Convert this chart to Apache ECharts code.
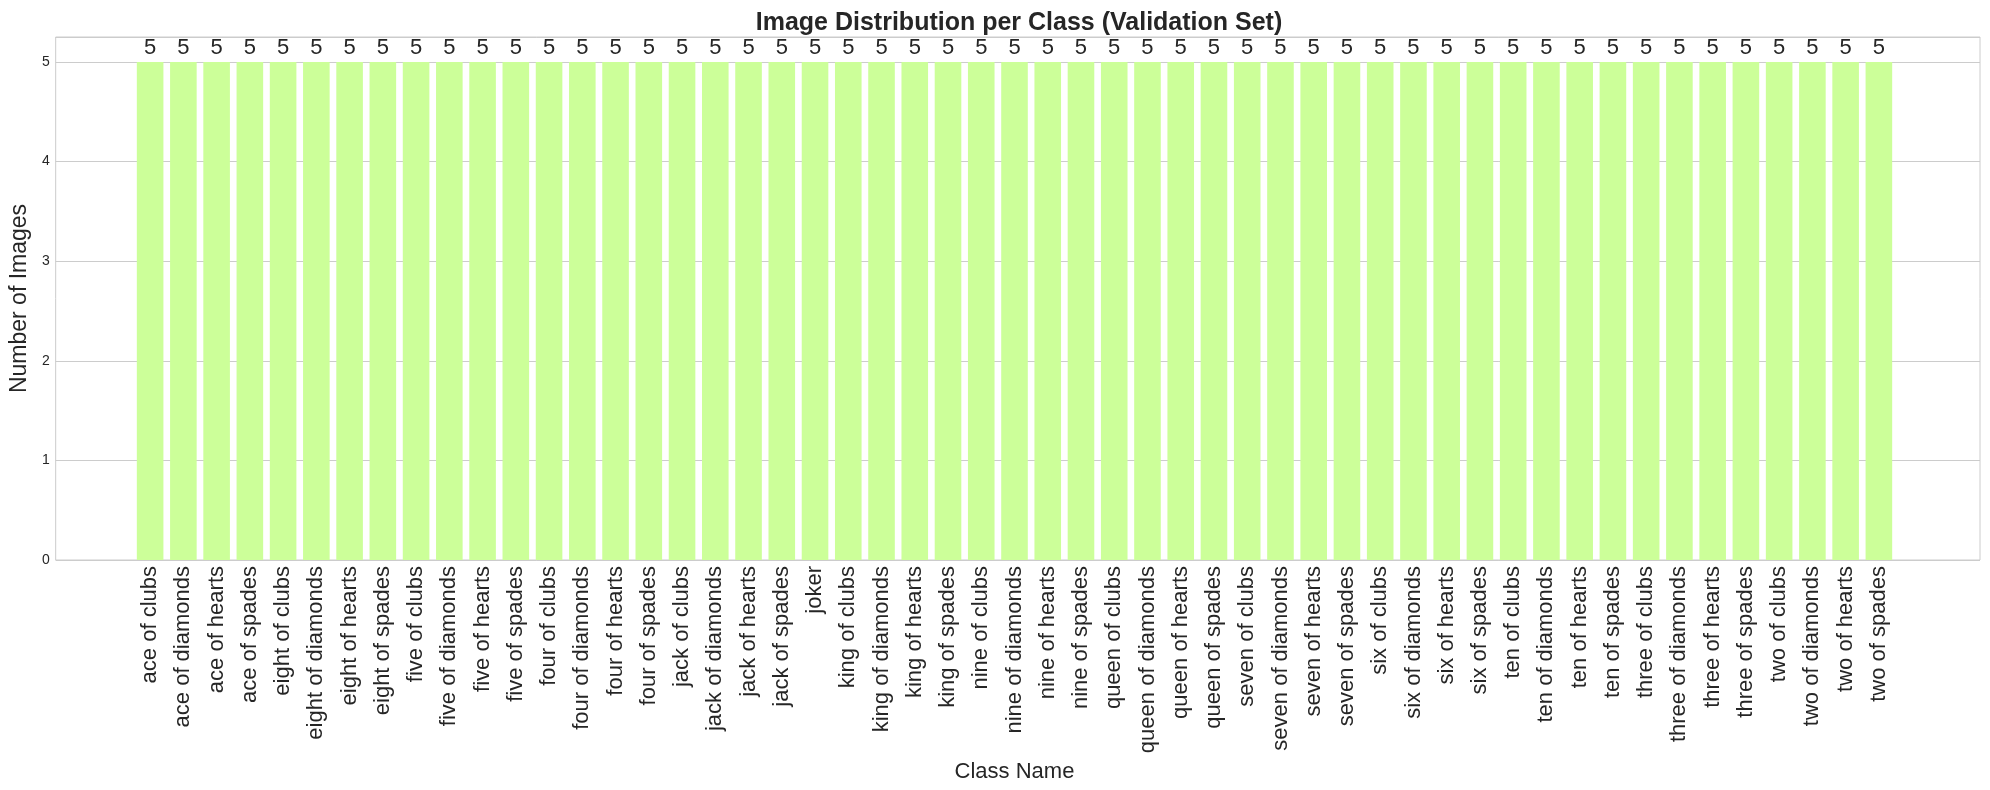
<!DOCTYPE html>
<html>
<head>
<meta charset="utf-8">
<script src="https://cdn.jsdelivr.net/npm/echarts@6/dist/echarts.min.js"></script>
<style>
  html, body { margin: 0; padding: 0; background: #fff; }
  #chart { width: 1990px; height: 790px; }
</style>
</head>
<body>
<div id="chart"></div>
<script>
// class names on the x axis
var classNames = [
    'ace of clubs', 'ace of diamonds', 'ace of hearts', 'ace of spades',
    'eight of clubs', 'eight of diamonds', 'eight of hearts', 'eight of spades',
    'five of clubs', 'five of diamonds', 'five of hearts', 'five of spades',
    'four of clubs', 'four of diamonds', 'four of hearts', 'four of spades',
    'jack of clubs', 'jack of diamonds', 'jack of hearts', 'jack of spades',
    'joker',
    'king of clubs', 'king of diamonds', 'king of hearts', 'king of spades',
    'nine of clubs', 'nine of diamonds', 'nine of hearts', 'nine of spades',
    'queen of clubs', 'queen of diamonds', 'queen of hearts', 'queen of spades',
    'seven of clubs', 'seven of diamonds', 'seven of hearts', 'seven of spades',
    'six of clubs', 'six of diamonds', 'six of hearts', 'six of spades',
    'ten of clubs', 'ten of diamonds', 'ten of hearts', 'ten of spades',
    'three of clubs', 'three of diamonds', 'three of hearts', 'three of spades',
    'two of clubs', 'two of diamonds', 'two of hearts', 'two of spades'
];

// images per class (validation set)
var imageCounts = [
    5, 5, 5, 5,
    5, 5, 5, 5,
    5, 5, 5, 5,
    5, 5, 5, 5,
    5, 5, 5, 5,
    5,
    5, 5, 5, 5,
    5, 5, 5, 5,
    5, 5, 5, 5,
    5, 5, 5, 5,
    5, 5, 5, 5,
    5, 5, 5, 5,
    5, 5, 5, 5,
    5, 5, 5, 5
];

var yMin = 0;
var yMax = 5.25;
var yStep = 1;

var FONT = 'Liberation Sans, Arial, sans-serif';
var TEXT = '#262626';
var GRID = '#cccccc';

var myChart = echarts.init(document.getElementById('chart'));

var option = {
    backgroundColor: '#ffffff',
    animation: false,
    title: {
        text: 'Image Distribution per Class (Validation Set)',
        left: 1014,
        top: 6,
        textAlign: 'center',
        textStyle: {
            fontFamily: FONT,
            fontSize: 25,
            fontWeight: 'bold',
            color: TEXT
        }
    },
    grid: [
        // frame like the matplotlib axes
        {left: 49, right: 10, top: 37, bottom: 230, show: true, borderColor: GRID, borderWidth: 1, backgroundColor: 'transparent'},
        // the bars only sit in the inner part of the axes
        {left: 133.5, right: 94.5, top: 37, bottom: 230}
    ],
    xAxis: [
        {gridIndex: 0, type: 'value', min: 0, max: 1, show: false},
        {
            gridIndex: 1,
            type: 'category',
            data: classNames,
            axisLine: {show: false},
            axisTick: {show: false},
            axisLabel: {
                interval: 0,
                rotate: 90,
                margin: 6,
                fontFamily: FONT,
                fontSize: 22,
                color: TEXT
            },
            name: 'Class Name',
            nameLocation: 'middle',
            nameGap: 191,
            nameTextStyle: {fontFamily: FONT, fontSize: 22, color: TEXT}
        }
    ],
    yAxis: [
        {
            gridIndex: 0,
            type: 'value',
            min: yMin,
            max: yMax,
            interval: yStep,
            axisLine: {show: false},
            axisTick: {show: false},
            splitLine: {lineStyle: {color: GRID, width: 1}},
            axisLabel: {
                showMaxLabel: false,
                margin: 6,
                fontFamily: FONT,
                fontSize: 14,
                color: TEXT
            },
            name: 'Number of Images',
            nameLocation: 'middle',
            nameGap: 22,
            nameTextStyle: {fontFamily: FONT, fontSize: 23, color: TEXT}
        },
        {gridIndex: 1, type: 'value', min: yMin, max: yMax, show: false}
    ],
    series: [
        {
            type: 'bar',
            xAxisIndex: 1,
            yAxisIndex: 1,
            data: imageCounts,
            barWidth: '80%',
            itemStyle: {color: '#ccff99'},
            label: {
                show: true,
                position: 'top',
                distance: 3,
                fontFamily: FONT,
                fontSize: 22,
                color: TEXT
            }
        }
    ]
};

myChart.setOption(option);

window.addEventListener('resize', function () {
    myChart.resize();
});
</script>
</body>
</html>
